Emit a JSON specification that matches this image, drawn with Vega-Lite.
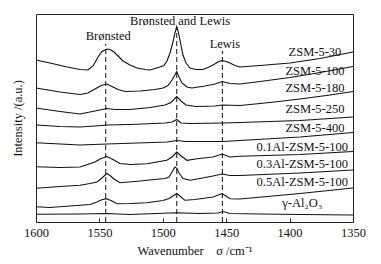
{
  "$schema": "https://vega.github.io/schema/vega-lite/v6.json",
  "autosize": "none",
  "width": 317,
  "height": 208,
  "padding": {"left": 36, "top": 14, "right": 28, "bottom": 42},
  "config": {
    "view": {"stroke": "#222", "strokeWidth": 1},
    "font": "Liberation Serif",
    "axis": {"labelFont": "Liberation Serif", "titleFont": "Liberation Serif", "labelFontSize": 12.5, "titleFontSize": 12.5, "titleFontWeight": "normal", "labelColor": "#111", "titleColor": "#111", "grid": false}
  },
  "datasets": {
    "spectra": [
      {"s":"a","w":1600,"v":162},{"s":"a","w":1589,"v":159},{"s":"a","w":1577.1,"v":155.5},{"s":"a","w":1565.3,"v":152.5},{"s":"a","w":1559,"v":152},{"s":"a","w":1555,"v":156},{"s":"a","w":1551.1,"v":165},{"s":"a","w":1548,"v":170.5},{"s":"a","w":1544.2,"v":173},{"s":"a","w":1541.6,"v":172.5},{"s":"a","w":1538.5,"v":170},{"s":"a","w":1535.3,"v":166},{"s":"a","w":1531.4,"v":161},{"s":"a","w":1525.9,"v":157},{"s":"a","w":1520.3,"v":154},{"s":"a","w":1514,"v":152.5},{"s":"a","w":1510.1,"v":152},{"s":"a","w":1506.2,"v":153.5},{"s":"a","w":1502.2,"v":155},{"s":"a","w":1499.1,"v":156.5},{"s":"a","w":1496.7,"v":161},{"s":"a","w":1494.3,"v":169},{"s":"a","w":1492,"v":180},{"s":"a","w":1490.4,"v":189},{"s":"a","w":1489,"v":195.5},{"s":"a","w":1487.6,"v":189},{"s":"a","w":1486,"v":179},{"s":"a","w":1484.1,"v":167},{"s":"a","w":1481.7,"v":159},{"s":"a","w":1478.5,"v":154},{"s":"a","w":1473.8,"v":152.5},{"s":"a","w":1468.3,"v":152.5},{"s":"a","w":1464.4,"v":154.5},{"s":"a","w":1460.4,"v":157},{"s":"a","w":1456.5,"v":160},{"s":"a","w":1453.3,"v":161.5},{"s":"a","w":1450.2,"v":160.5},{"s":"a","w":1447,"v":159},{"s":"a","w":1443.1,"v":156.5},{"s":"a","w":1439.1,"v":155},{"s":"a","w":1423.3,"v":156.5},{"s":"a","w":1399.7,"v":159},{"s":"a","w":1376,"v":163.5},{"s":"a","w":1350,"v":170},
      {"s":"b","w":1600,"v":134},{"s":"b","w":1581,"v":130},{"s":"b","w":1565.3,"v":127.5},{"s":"b","w":1559,"v":129},{"s":"b","w":1553.5,"v":133},{"s":"b","w":1548.7,"v":136.5},{"s":"b","w":1544.2,"v":138},{"s":"b","w":1540.1,"v":135.5},{"s":"b","w":1535.3,"v":132.5},{"s":"b","w":1529.8,"v":130.5},{"s":"b","w":1518,"v":131},{"s":"b","w":1506.2,"v":132.5},{"s":"b","w":1499.8,"v":134},{"s":"b","w":1495.9,"v":136.5},{"s":"b","w":1492.7,"v":142},{"s":"b","w":1489,"v":150.5},{"s":"b","w":1487.2,"v":145},{"s":"b","w":1484.9,"v":139},{"s":"b","w":1480.9,"v":135},{"s":"b","w":1477,"v":134},{"s":"b","w":1466.7,"v":136},{"s":"b","w":1458.8,"v":138},{"s":"b","w":1453.3,"v":140.5},{"s":"b","w":1447,"v":138.5},{"s":"b","w":1439.1,"v":138},{"s":"b","w":1423.3,"v":140.5},{"s":"b","w":1399.7,"v":144.5},{"s":"b","w":1376,"v":149.5},{"s":"b","w":1350,"v":155.5},
      {"s":"c","w":1600,"v":114},{"s":"c","w":1581,"v":110.5},{"s":"c","w":1565.3,"v":108},{"s":"c","w":1553.5,"v":111},{"s":"c","w":1544.2,"v":113.5},{"s":"c","w":1537.7,"v":112.5},{"s":"c","w":1525.9,"v":112.5},{"s":"c","w":1510.1,"v":114.5},{"s":"c","w":1498.3,"v":117},{"s":"c","w":1493.5,"v":119.5},{"s":"c","w":1489,"v":125.5},{"s":"c","w":1485.6,"v":121},{"s":"c","w":1481.7,"v":117},{"s":"c","w":1473.8,"v":115.5},{"s":"c","w":1458.8,"v":116},{"s":"c","w":1453.3,"v":117},{"s":"c","w":1439.1,"v":116.5},{"s":"c","w":1415.5,"v":119.5},{"s":"c","w":1391.8,"v":123},{"s":"c","w":1368.1,"v":127},{"s":"c","w":1350,"v":130.5},
      {"s":"d","w":1600,"v":97},{"s":"d","w":1581,"v":95.5},{"s":"d","w":1565.3,"v":95},{"s":"d","w":1553.5,"v":96},{"s":"d","w":1544.2,"v":97},{"s":"d","w":1525.9,"v":97.5},{"s":"d","w":1498.3,"v":99},{"s":"d","w":1492.7,"v":100},{"s":"d","w":1489,"v":102.5},{"s":"d","w":1485.6,"v":99},{"s":"d","w":1478.5,"v":98.5},{"s":"d","w":1453.3,"v":99},{"s":"d","w":1439.1,"v":99.5},{"s":"d","w":1391.8,"v":101.5},{"s":"d","w":1350,"v":105},
      {"s":"e","w":1600,"v":79.3},{"s":"e","w":1565.3,"v":77},{"s":"e","w":1544.2,"v":78},{"s":"e","w":1525.9,"v":78.7},{"s":"e","w":1496.7,"v":80},{"s":"e","w":1489,"v":81.5},{"s":"e","w":1481.7,"v":80.5},{"s":"e","w":1452.5,"v":80.5},{"s":"e","w":1439.1,"v":81.5},{"s":"e","w":1391.8,"v":85},{"s":"e","w":1350,"v":89.5},
      {"s":"f","w":1600,"v":55.3},{"s":"f","w":1581,"v":54.5},{"s":"f","w":1565.3,"v":55},{"s":"f","w":1553.5,"v":60},{"s":"f","w":1549.5,"v":63},{"s":"f","w":1544.2,"v":65.5},{"s":"f","w":1539.3,"v":62.5},{"s":"f","w":1533.8,"v":58.5},{"s":"f","w":1525.9,"v":57.5},{"s":"f","w":1512.5,"v":58.3},{"s":"f","w":1496.9,"v":61.7},{"s":"f","w":1492.7,"v":65},{"s":"f","w":1489,"v":70},{"s":"f","w":1485.6,"v":66},{"s":"f","w":1480.9,"v":61.7},{"s":"f","w":1473,"v":63.3},{"s":"f","w":1460.4,"v":65},{"s":"f","w":1453.3,"v":68},{"s":"f","w":1447,"v":65},{"s":"f","w":1439.1,"v":65.7},{"s":"f","w":1391.8,"v":67.5},{"s":"f","w":1350,"v":70.5},
      {"s":"g","w":1600,"v":33.7},{"s":"g","w":1581,"v":35.5},{"s":"g","w":1565.3,"v":36.7},{"s":"g","w":1557.4,"v":38.5},{"s":"g","w":1551.9,"v":40},{"s":"g","w":1548,"v":44},{"s":"g","w":1544.2,"v":48.5},{"s":"g","w":1541.6,"v":46.5},{"s":"g","w":1538.5,"v":43},{"s":"g","w":1533.8,"v":39.3},{"s":"g","w":1521.9,"v":40.5},{"s":"g","w":1512.5,"v":41.7},{"s":"g","w":1498.3,"v":43.5},{"s":"g","w":1495.1,"v":45},{"s":"g","w":1492.7,"v":50},{"s":"g","w":1490.4,"v":55},{"s":"g","w":1488.8,"v":53.5},{"s":"g","w":1487.2,"v":49},{"s":"g","w":1484.1,"v":43.5},{"s":"g","w":1478.5,"v":41.7},{"s":"g","w":1470.7,"v":43.5},{"s":"g","w":1460.4,"v":46},{"s":"g","w":1453.3,"v":48},{"s":"g","w":1447,"v":46.5},{"s":"g","w":1439.1,"v":46.5},{"s":"g","w":1391.8,"v":49},{"s":"g","w":1350,"v":52},
      {"s":"h","w":1600,"v":15.3},{"s":"h","w":1589,"v":14.5},{"s":"h","w":1573.2,"v":16},{"s":"h","w":1557.4,"v":17.5},{"s":"h","w":1551.9,"v":20},{"s":"h","w":1548.7,"v":22},{"s":"h","w":1544.8,"v":23.3},{"s":"h","w":1540.9,"v":21.5},{"s":"h","w":1536.1,"v":18.3},{"s":"h","w":1525.9,"v":18.5},{"s":"h","w":1512.5,"v":19.3},{"s":"h","w":1499.8,"v":21.5},{"s":"h","w":1495.1,"v":23.5},{"s":"h","w":1489,"v":28.5},{"s":"h","w":1485.6,"v":25},{"s":"h","w":1482.5,"v":21.7},{"s":"h","w":1474.6,"v":22.5},{"s":"h","w":1460.4,"v":25},{"s":"h","w":1453.3,"v":28.5},{"s":"h","w":1450.2,"v":26},{"s":"h","w":1447,"v":23.3},{"s":"h","w":1439.1,"v":23},{"s":"h","w":1391.8,"v":28.5},{"s":"h","w":1350,"v":34},
      {"s":"i","w":1600,"v":7.7},{"s":"i","w":1565.3,"v":8},{"s":"i","w":1544.2,"v":8.5},{"s":"i","w":1525.9,"v":7.5},{"s":"i","w":1489,"v":9.3},{"s":"i","w":1470.7,"v":8.5},{"s":"i","w":1456.5,"v":9},{"s":"i","w":1452.5,"v":10.5},{"s":"i","w":1447,"v":8.5},{"s":"i","w":1423.3,"v":8},{"s":"i","w":1391.8,"v":7.5},{"s":"i","w":1350,"v":7}
    ],
    "labels": [
      {"t":"ZSM-5-30","w":1380,"v":166},
      {"t":"ZSM-5-100","w":1380,"v":147},
      {"t":"ZSM-5-180","w":1380,"v":130},
      {"t":"ZSM-5-250","w":1380,"v":109},
      {"t":"ZSM-5-400","w":1380,"v":90},
      {"t":"0.1Al-ZSM-5-100","w":1390,"v":71},
      {"t":"0.3Al-ZSM-5-100","w":1390,"v":54.5},
      {"t":"0.5Al-ZSM-5-100","w":1390,"v":36},
      {"t":"γ-Al₂O₃","w":1390,"v":15},
      {"t":"Brønsted","w":1543,"v":182},
      {"t":"Brønsted and Lewis","w":1486.4,"v":197},
      {"t":"Lewis","w":1451,"v":174}
    ],
    "rules": [
      {"w":1545,"v0":0,"v1":178},
      {"w":1489,"v0":0,"v1":195},
      {"w":1453,"v0":0,"v1":171}
    ]
  },
  "layer": [
    {
      "data": {"name": "rules"},
      "mark": {"type": "rule", "strokeDash": [5, 3], "color": "#111", "strokeWidth": 1},
      "encoding": {
        "x": {"field": "w", "type": "quantitative", "scale": {"domain": [1600, 1350], "nice": false}},
        "y": {"field": "v0", "type": "quantitative", "scale": {"domain": [0, 208], "nice": false}},
        "y2": {"field": "v1"}
      }
    },
    {
      "data": {"name": "spectra"},
      "mark": {"type": "line", "color": "#111", "strokeWidth": 1.1},
      "encoding": {
        "x": {"field": "w", "type": "quantitative", "scale": {"domain": [1600, 1350], "nice": false},
          "axis": {"title": "Wavenumber\u00a0\u00a0\u00a0\u00a0σ\u00a0/cm⁻¹", "values": [1600,1575,1550,1525,1500,1475,1450,1425,1400,1375,1350], "format": "d", "labelExpr": "datum.value % 50 === 0 ? datum.label : ''", "tickSize": -4, "tickColor": "#222", "domain": false, "labelPadding": 8, "titlePadding": 6, "labelFlush": false}},
        "y": {"field": "v", "type": "quantitative", "scale": {"domain": [0, 208], "nice": false},
          "axis": {"title": "Intensity /(a.u.)", "labels": false, "ticks": false, "domain": false, "titlePadding": 12}},
        "detail": {"field": "s", "type": "nominal"}
      }
    },
    {
      "data": {"name": "labels"},
      "mark": {"type": "text", "font": "Liberation Serif", "fontSize": 12.5, "baseline": "alphabetic", "align": "center", "color": "#111"},
      "encoding": {
        "x": {"field": "w", "type": "quantitative"},
        "y": {"field": "v", "type": "quantitative"},
        "text": {"field": "t", "type": "nominal"}
      }
    }
  ]
}
